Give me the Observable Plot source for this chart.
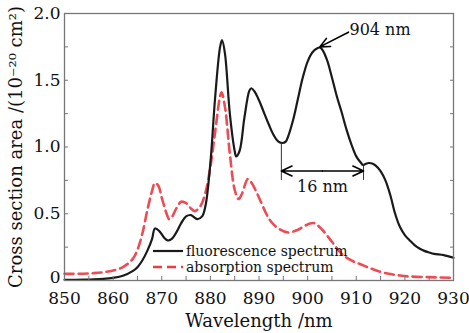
<!DOCTYPE html>
<html>
<head>
<meta charset="utf-8">
<script src="https://cdn.jsdelivr.net/npm/d3@7"></script>
<script src="https://cdn.jsdelivr.net/npm/@observablehq/plot@0.6"></script>
<style>
  html, body { margin: 0; padding: 0; background: #fff; }
  #wrap { position: relative; width: 469px; height: 333px; font-family: "DejaVu Serif", serif; }
  #legend { position: absolute; left: 152px; top: 243px; font-size: 14px; line-height: 16px; color: #111; }
  #legend .row { display: flex; align-items: center; height: 16px; white-space: nowrap; }
  #legend svg { margin-right: 2px; }
</style>
</head>
<body>
<div id="wrap">
  <div id="chart"></div>
  <div id="legend"></div>
</div>
<script>
// Fluorescence spectrum (wavelength nm, cross section 1e-20 cm^2)
const fluoWavelength = [850,852,854,856,858,860,862,864,865,866,867,868,868.6,869.5,870.5,871.2,872,873,874,875,876,877.3,878.3,879,880,881,882,882.4,883,884,885,885.3,886,887,888,888.4,889,890,891,892,893,894,894.8,895.5,896,897,898,899,900,901,902,902.5,903,904,905,906,907,908,909,910,911,911.4,912,912.6,913.4,914,915,916,917,918,919,920,921,922,923,924,925,926,928,930];
const fluoValue      = [0.005,0.005,0.006,0.008,0.012,0.02,0.035,0.07,0.1,0.15,0.22,0.31,0.39,0.37,0.32,0.30,0.31,0.36,0.43,0.48,0.49,0.46,0.48,0.56,0.88,1.38,1.75,1.80,1.70,1.25,0.97,0.93,0.97,1.22,1.42,1.44,1.42,1.35,1.26,1.17,1.09,1.04,1.03,1.04,1.08,1.2,1.36,1.52,1.64,1.71,1.74,1.745,1.73,1.65,1.52,1.38,1.26,1.13,1.02,0.93,0.88,0.865,0.875,0.88,0.875,0.86,0.82,0.75,0.64,0.5,0.4,0.34,0.3,0.265,0.24,0.222,0.21,0.2,0.19,0.17];

// Absorption spectrum
const absWavelength = [850,853,856,858,860,862,864,865,866,867,868,868.6,869.3,870,871,871.5,872,873,874,875,876,876.8,878,879,880,881,882,882.3,883,884,885,885.8,886.5,887.7,888.5,889.5,890.5,891.5,892.5,894,896,898,900,901.3,903,905,907,909,911,913,915,917,919,921,925,930];
const absValue      = [0.05,0.05,0.055,0.062,0.075,0.1,0.16,0.23,0.35,0.52,0.67,0.73,0.71,0.62,0.5,0.46,0.47,0.54,0.59,0.58,0.54,0.52,0.56,0.66,0.85,1.12,1.38,1.41,1.3,0.95,0.68,0.61,0.65,0.76,0.73,0.66,0.58,0.5,0.44,0.39,0.36,0.38,0.42,0.43,0.38,0.29,0.2,0.15,0.12,0.09,0.065,0.048,0.037,0.03,0.025,0.02];

// Axis ticks
const xLabelTicks = [850,860,870,880,890,900,910,920,930];
const xMinorTicks = [850,855,860,865,870,875,880,885,890,895,900,905,910,915,920,925,930];
const yLabelTicks = [0,0.5,1.0,1.5,2.0];
const yMinorTicks = [0,0.25,0.5,0.75,1.0,1.25,1.5,1.75,2.0];

// Annotations
const peakLabel = "904 nm";
const peakPoint = {x: 902.5, y: 1.75};
const peakLabelPos = {x: 908.4, y: 1.88};
const fwhmLeft = 894.6, fwhmRight = 911.5;
const fwhmLeftTop = 1.03, fwhmRightTop = 0.87, fwhmBottom = 0.75, fwhmArrowY = 0.82;
const fwhmLabel = "16 nm";
const fwhmLabelY = 0.70;

const legendItems = [
  {label: "fluorescence spectrum", color: "#1a1a1a", dash: null},
  {label: "absorption spectrum", color: "#ec3d47", dash: "9,5"}
];

const fluo = fluoWavelength.map((x, i) => ({x, y: fluoValue[i]}));
const abs = absWavelength.map((x, i) => ({x, y: absValue[i]}));
const fwhmMid = (fwhmLeft + fwhmRight) / 2;

const chart = Plot.plot({
  width: 469,
  height: 333,
  marginLeft: 64,
  marginRight: 16,
  marginTop: 13,
  marginBottom: 53,
  style: {fontFamily: "DejaVu Serif, serif", fontSize: "17px", color: "#111", background: "#fff"},
  x: {domain: [850, 930]},
  y: {domain: [0, 2.0]},
  marks: [
    Plot.line(abs, {x: "x", y: "y", curve: "catmull-rom", stroke: "#ec3d47", strokeWidth: 2.6, strokeDasharray: "9,5", strokeOpacity: 0.92}),
    Plot.line(fluo, {x: "x", y: "y", curve: "catmull-rom", stroke: "#1a1a1a", strokeWidth: 2.2}),
    // FWHM markers
    Plot.ruleX([fwhmLeft], {y1: fwhmLeftTop, y2: fwhmBottom, stroke: "#333", strokeWidth: 1}),
    Plot.ruleX([fwhmRight], {y1: fwhmRightTop, y2: fwhmBottom, stroke: "#333", strokeWidth: 1}),
    Plot.arrow([{a: fwhmMid, b: fwhmLeft}, {a: fwhmMid, b: fwhmRight}], {x1: "a", x2: "b", y1: () => fwhmArrowY, y2: () => fwhmArrowY, stroke: "#000", strokeWidth: 1.6, headLength: 11, headAngle: 50}),
    Plot.text([fwhmLabel], {x: fwhmMid, y: fwhmLabelY, text: d => d, fontSize: 16, fill: "#111"}),
    // Peak annotation
    Plot.arrow([0], {x1: peakLabelPos.x, y1: peakLabelPos.y - 0.02, x2: peakPoint.x, y2: peakPoint.y, stroke: "#000", strokeWidth: 1.6, headLength: 11, headAngle: 50}),
    Plot.text([peakLabel], {x: peakLabelPos.x, y: peakLabelPos.y, text: d => d, textAnchor: "start", dx: 1, fontSize: 16, fill: "#111"}),
    // inward ticks
    Plot.axisX({ticks: xMinorTicks, anchor: "bottom", tickSize: -4, tickFormat: () => "", stroke: "#777", label: null}),
    Plot.axisY({ticks: yMinorTicks, anchor: "left", tickSize: -4, tickFormat: () => "", stroke: "#777", label: null}),
    Plot.axisY({ticks: yMinorTicks, anchor: "right", tickSize: -4, tickFormat: () => "", stroke: "#777", label: null}),
    // labelled axes
    Plot.axisX({ticks: xLabelTicks, anchor: "bottom", tickSize: 0, tickPadding: 11, fontSize: 17, label: "Wavelength /nm", labelAnchor: "center", labelArrow: "none", labelOffset: 46}),
    Plot.axisY({ticks: yLabelTicks, anchor: "left", tickSize: 0, tickPadding: 4, fontSize: 17, tickFormat: d => d === 0 ? "0" : d.toFixed(1), label: "Cross section area /(10⁻²⁰ cm²)", labelAnchor: "center", labelArrow: "none", labelOffset: 55}),
    Plot.frame({stroke: "#777", strokeWidth: 1.3})
  ]
});
document.getElementById("chart").appendChild(chart);

// Axis title font sizes, and nudge the "0" label up a bit as in the reference
d3.select(chart).selectAll("[aria-label='x-axis label'] text, [aria-label='y-axis label'] text").style("font-size", "18px");
d3.select(chart).selectAll("[aria-label='y-axis tick label'] text")
  .filter(function() { return this.textContent === "0"; })
  .attr("dy", "-0.15em");

// Legend
const legend = d3.select("#legend");
legendItems.forEach(item => {
  const row = legend.append("div").attr("class", "row");
  const svg = row.append("svg").attr("width", 32).attr("height", 16);
  svg.append("line").attr("x1", 1).attr("x2", 31).attr("y1", 8).attr("y2", 8)
    .attr("stroke", item.color).attr("stroke-width", item.dash ? 2.6 : 2.2)
    .attr("stroke-dasharray", item.dash);
  row.append("span").text(item.label);
});
</script>
</body>
</html>
